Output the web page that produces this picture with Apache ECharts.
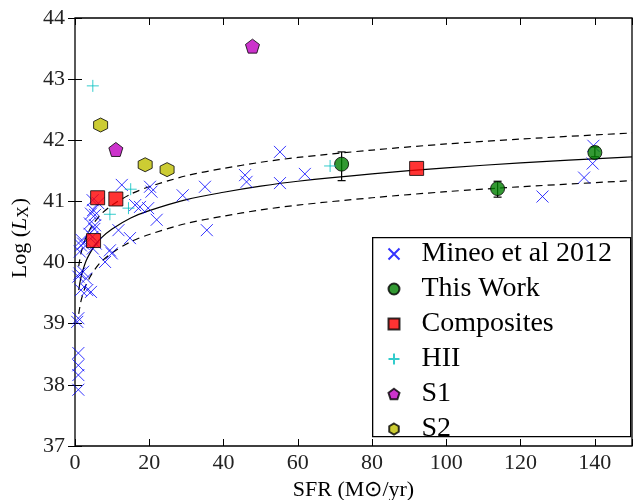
<!DOCTYPE html>
<html>
<head>
<meta charset="utf-8">
<script src="https://cdn.jsdelivr.net/npm/echarts@6/dist/echarts.min.js"></script>
<style>
  html, body { margin: 0; padding: 0; background: #fff; }
  #chart { width: 644px; height: 500px; }
</style>
</head>
<body>
<div id="chart"></div>
<script>
// Mineo et al 2012 (blue crosses)
const mineoX = [0.9, 0.9, 0.9, 0.9, 0.6, 0.9, 1.2, 0.9, 2.2, 3.0, 1.6, 3.3, 4.3,
  1.3, 1.6, 2.2, 1.8, 3.9, 4.7, 4.8, 5.6, 4.0, 5.4, 5.2, 4.3, 4.9, 5.4, 6.3, 4.75,
  8.1, 9.4, 9.9, 11.7, 14.8, 12.6, 16.2, 17.5, 19.7, 20.2, 20.6, 22.0,
  29.0, 35.0, 35.5, 45.8, 46.2, 55.2, 55.2, 61.9, 125.9, 137.1, 139.4, 139.6];
const mineoY = [37.92, 38.16, 38.32, 38.52, 39.03, 39.09, 39.82, 39.77, 39.85, 39.74, 39.55, 39.55, 39.52,
  40.18, 40.28, 40.31, 40.37, 40.47, 40.42, 40.23, 40.31, 40.64, 40.61, 40.55, 40.80, 40.86, 40.78, 40.97, 41.02,
  40.01, 40.20, 40.15, 40.53, 40.40, 41.27, 40.94, 40.91, 40.89, 41.24, 41.16, 40.70,
  41.10, 41.24, 40.53, 41.43, 41.32, 41.81, 41.30, 41.45, 41.08, 41.39, 41.62, 41.91];

// This Work (green circles, with error bars)
const workX = [71.8, 113.8, 140.0];
const workY = [41.61, 41.21, 41.80];
const workLo = [41.34, 41.07, 41.73];
const workHi = [41.81, 41.33, 41.89];

// Composites
const compX = [5.0, 6.1, 11.0, 92.0];
const compY = [40.36, 41.06, 41.04, 41.54];

// HII
const hiiX = [4.8, 9.4, 14.4, 15.0, 68.7];
const hiiY = [42.89, 40.79, 40.89, 41.20, 41.58];

// S1, S2
const s1X = [11.0, 47.8];
const s1Y = [41.85, 43.54];
const s2X = [6.9, 18.9, 24.8];
const s2Y = [42.25, 41.60, 41.52];

// relation and scatter band
const relX = [1, 1.5, 2, 3, 4, 5, 7, 10, 15, 20, 30, 40, 50, 60, 80, 100, 120, 150];
const relMid = [39.55, 39.73, 39.85, 40.03, 40.15, 40.25, 40.40, 40.55, 40.73, 40.85, 41.03, 41.15, 41.25, 41.33, 41.45, 41.55, 41.63, 41.73];
const relUp = [39.94, 40.12, 40.24, 40.42, 40.54, 40.64, 40.79, 40.94, 41.12, 41.24, 41.42, 41.54, 41.64, 41.72, 41.84, 41.94, 42.02, 42.12];
const relLo = [39.16, 39.34, 39.46, 39.64, 39.76, 39.86, 40.01, 40.16, 40.34, 40.46, 40.64, 40.76, 40.86, 40.94, 41.06, 41.16, 41.24, 41.34];

const xTicks = [0, 20, 40, 60, 80, 100, 120, 140];
const yTicks = [37, 38, 39, 40, 41, 42, 43, 44];

const zip = (a, b) => a.map((v, i) => [v, b[i]]);
const FONT = 'Liberation Serif';

const crossPath = 'path://M0,0L10,10M10,0L0,10';
const plusPath = 'path://M5,0L5,10M0,5L10,5';
const pentPath = 'path://M50,0L97.6,34.5L79.4,90.5L20.6,90.5L2.4,34.5Z';
const hexPath = 'path://M50,0L93.3,25L93.3,75L50,100L6.7,75L6.7,25Z';

const chart = echarts.init(document.getElementById('chart'), null, { renderer: 'canvas' });

function lineSeries(y, dashed) {
  return {
    type: 'line',
    data: zip(relX, y),
    smooth: 0.3,
    symbol: 'none',
    silent: true,
    lineStyle: { color: '#000', width: 1.2, type: dashed ? [7, 5] : 'solid' },
    z: 1
  };
}

chart.setOption({
  animation: false,
  grid: { left: 75, right: 12, top: 18, bottom: 54, show: true, borderColor: '#000', borderWidth: 1.3,
    outerBoundsMode: 'none', containLabel: false },
  // legend frame
  graphic: [{
    type: 'rect', left: 372, top: 237, z: 10,
    shape: { width: 258, height: 199 },
    style: { fill: '#fff', stroke: '#000', lineWidth: 1.3 }
  }],
  xAxis: [{
    type: 'value', min: 0, max: 150, interval: 20,
    name: 'SFR (M⊙/yr)', nameLocation: 'middle', nameGap: 28,
    nameTextStyle: { fontFamily: FONT, fontSize: 22, color: '#000' },
    axisLine: { show: false },
    axisTick: { inside: true, length: 7, lineStyle: { color: '#000' } },
    axisLabel: { fontFamily: FONT, fontSize: 22, color: '#222', margin: 6,
      formatter: v => xTicks.includes(v) ? String(v) : '' },
    splitLine: { show: false }
  }, {
    type: 'value', min: 0, max: 150, interval: 20, position: 'top',
    axisLine: { show: false },
    axisTick: { inside: true, length: 7, lineStyle: { color: '#000' } },
    axisLabel: { show: false }, splitLine: { show: false }
  }],
  yAxis: [{
    type: 'value', min: 37, max: 44, interval: 1,
    name: '{a|Log (}{i|L}{s|X}{a|)}', nameLocation: 'middle', nameGap: 37, nameRotate: 90,
    nameTextStyle: { fontFamily: FONT, fontSize: 22, color: '#000', padding: [0, 12, 0, 0],
      rich: {
        a: { fontFamily: FONT, fontSize: 22, color: '#000' },
        i: { fontFamily: FONT, fontSize: 22, fontStyle: 'italic', color: '#000' },
        s: { fontFamily: FONT, fontSize: 16, color: '#000', padding: [8, 1, 0, 0] }
      } },
    axisLine: { show: false },
    axisTick: { inside: true, length: 7, lineStyle: { color: '#000' } },
    axisLabel: { fontFamily: FONT, fontSize: 22, color: '#222', margin: 10,
      formatter: v => yTicks.includes(v) ? String(v) : '' },
    splitLine: { show: false }
  }, {
    type: 'value', min: 37, max: 44, interval: 1, position: 'right',
    axisLine: { show: false },
    axisTick: { inside: true, length: 7, lineStyle: { color: '#000' } },
    axisLabel: { show: false }, splitLine: { show: false }
  }],
  legend: {
    orient: 'vertical', left: 372, top: 237, z: 11,
    padding: [3, 19, 0, 14], itemGap: 7, itemWidth: 11, itemHeight: 11,
    textStyle: { fontFamily: FONT, fontSize: 28, color: '#000', padding: [0, 0, 0, 17] },
    data: ['Mineo et al 2012', 'This Work', 'Composites', 'HII', 'S1', 'S2']
  },
  series: [
    {
      name: 'Mineo et al 2012', type: 'scatter', data: zip(mineoX, mineoY),
      symbol: crossPath, symbolSize: 12,
      itemStyle: { color: 'none', borderColor: '#0000ff', borderWidth: 1 }, z: 2
    },
    lineSeries(relMid, false),
    lineSeries(relUp, true),
    lineSeries(relLo, true),
    {
      type: 'custom', silent: true, z: 3,
      data: workX.map((x, i) => [x, workLo[i], workHi[i]]),
      renderItem: (params, api) => {
        const x = api.value(0);
        const a = api.coord([x, api.value(1)]);
        const b = api.coord([x, api.value(2)]);
        const st = { stroke: '#000', lineWidth: 1.2 };
        return {
          type: 'group', children: [
            { type: 'line', shape: { x1: a[0], y1: a[1], x2: b[0], y2: b[1] }, style: st },
            { type: 'line', shape: { x1: a[0] - 4, y1: a[1], x2: a[0] + 4, y2: a[1] }, style: st },
            { type: 'line', shape: { x1: b[0] - 4, y1: b[1], x2: b[0] + 4, y2: b[1] }, style: st }
          ]
        };
      }
    },
    {
      name: 'This Work', type: 'scatter', data: zip(workX, workY),
      symbol: 'circle', symbolSize: 14,
      itemStyle: { color: '#008000', borderColor: '#000', borderWidth: 1 }, z: 4
    },
    {
      name: 'Composites', type: 'scatter', data: zip(compX, compY),
      symbol: 'rect', symbolSize: 14,
      itemStyle: { color: '#ff0000', borderColor: '#000', borderWidth: 1 }, z: 4
    },
    {
      name: 'HII', type: 'scatter', data: zip(hiiX, hiiY),
      symbol: plusPath, symbolSize: 12,
      itemStyle: { color: 'none', borderColor: '#00bfbf', borderWidth: 1 }, z: 4
    },
    {
      name: 'S1', type: 'scatter', data: zip(s1X, s1Y),
      symbol: pentPath, symbolSize: 14,
      itemStyle: { color: '#bf00bf', borderColor: '#000', borderWidth: 1 }, z: 4
    },
    {
      name: 'S2', type: 'scatter', data: zip(s2X, s2Y),
      symbol: hexPath, symbolSize: 14,
      itemStyle: { color: '#bfbf00', borderColor: '#000', borderWidth: 1 }, z: 4
    }
  ]
});
</script>
</body>
</html>
